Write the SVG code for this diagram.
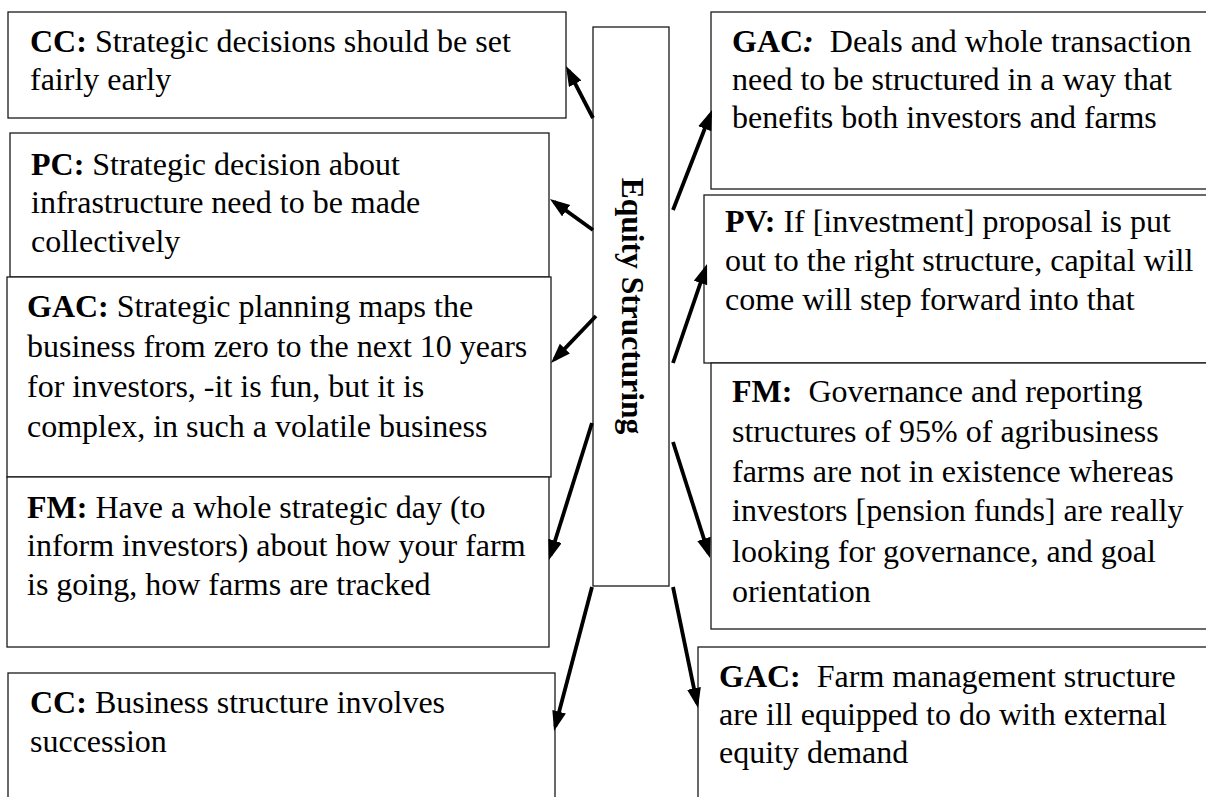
<svg xmlns="http://www.w3.org/2000/svg" width="1206" height="797" viewBox="0 0 1206 797">
  <defs>
    <style>
      .box { fill: #fff; stroke: #1a1a1a; stroke-width: 1.3; }
      .txt { font-family: "Liberation Serif", "Times New Roman", serif; font-size: 32px; fill: #000; }
      .b { font-weight: bold; }
      .title { font-family: "Liberation Serif", "Times New Roman", serif; font-size: 31.5px; font-weight: bold; fill: #000; }
      .arrow { stroke: #000; stroke-width: 3.8; fill: none; marker-end: url(#head); }
    </style>
    <marker id="head" markerUnits="userSpaceOnUse" markerWidth="22" markerHeight="16" refX="15" refY="7" orient="auto">
      <path d="M0,0 L20,7 L0,14 Z" fill="#000"/>
    </marker>
  </defs>

  <rect width="1206" height="797" fill="#fff"/>

  <!-- central theme -->
  <g id="equity-structuring">
    <rect class="box" x="593" y="27" width="76" height="559"/>
    <text class="title" transform="translate(622,306) rotate(90)" text-anchor="middle">Equity Structuring</text>
  </g>

  <!-- left column -->
  <g id="cc-strategic">
    <rect class="box" x="8" y="12" width="558" height="106"/>
    <text class="txt"><tspan x="30" y="52"><tspan class="b">CC:</tspan> Strategic decisions should be set</tspan><tspan x="30" y="90">fairly early</tspan></text>
  </g>

  <g id="pc-infrastructure">
    <rect class="box" x="10" y="133" width="539" height="144"/>
    <text class="txt"><tspan x="31" y="175"><tspan class="b">PC:</tspan> Strategic decision about</tspan><tspan x="31" y="213">infrastructure need to be made</tspan><tspan x="31" y="252">collectively</tspan></text>
  </g>

  <g id="gac-planning">
    <rect class="box" x="7" y="277" width="544" height="200"/>
    <text class="txt"><tspan x="27" y="317"><tspan class="b">GAC:</tspan> Strategic planning maps the</tspan><tspan x="27" y="357">business from zero to the next 10 years</tspan><tspan x="27" y="397">for investors, -it is fun, but it is</tspan><tspan x="27" y="437">complex, in such a volatile business</tspan></text>
  </g>

  <g id="fm-strategic-day">
    <rect class="box" x="7" y="477" width="542" height="170"/>
    <text class="txt"><tspan x="27" y="518"><tspan class="b">FM:</tspan> Have a whole strategic day (to</tspan><tspan x="27" y="556">inform investors) about how your farm</tspan><tspan x="27" y="595">is going, how farms are tracked</tspan></text>
  </g>

  <g id="cc-succession">
    <rect class="box" x="8" y="673" width="547" height="140"/>
    <text class="txt"><tspan x="30" y="713"><tspan class="b">CC:</tspan> Business structure involves</tspan><tspan x="30" y="752">succession</tspan></text>
  </g>

  <!-- right column -->
  <g id="gac-deals">
    <rect class="box" x="711" y="12" width="505" height="177"/>
    <text class="txt" xml:space="preserve"><tspan x="732" y="52"><tspan class="b">GAC</tspan><tspan class="b" font-style="italic">:</tspan>  Deals and whole transaction</tspan><tspan x="732" y="90">need to be structured in a way that</tspan><tspan x="732" y="128">benefits both investors and farms</tspan></text>
  </g>

  <g id="pv-proposal">
    <rect class="box" x="704" y="195" width="512" height="168"/>
    <text class="txt"><tspan x="725" y="232"><tspan class="b">PV:</tspan> If [investment] proposal is put</tspan><tspan x="725" y="271">out to the right structure, capital will</tspan><tspan x="725" y="310">come will step forward into that</tspan></text>
  </g>

  <g id="fm-governance">
    <rect class="box" x="711" y="363" width="505" height="266"/>
    <text class="txt" xml:space="preserve"><tspan x="732" y="402"><tspan class="b">FM:</tspan>  Governance and reporting</tspan><tspan x="732" y="442">structures of 95% of agribusiness</tspan><tspan x="732" y="482">farms are not in existence whereas</tspan><tspan x="732" y="521">investors [pension funds] are really</tspan><tspan x="732" y="562">looking for governance, and goal</tspan><tspan x="732" y="602">orientation</tspan></text>
  </g>

  <g id="gac-management">
    <rect class="box" x="698" y="647" width="518" height="170"/>
    <text class="txt" xml:space="preserve"><tspan x="719" y="687"><tspan class="b">GAC:</tspan>  Farm management structure</tspan><tspan x="719" y="725">are ill equipped to do with external</tspan><tspan x="719" y="763">equity demand</tspan></text>
  </g>

  <!-- connectors -->
  <g id="connectors">
    <line class="arrow" x1="593" y1="118" x2="568.3" y2="70.4"/>
    <line class="arrow" x1="593" y1="230" x2="554" y2="201.9"/>
    <line class="arrow" x1="596" y1="316" x2="554.5" y2="359.4"/>
    <line class="arrow" x1="592" y1="423" x2="550.5" y2="555.2"/>
    <line class="arrow" x1="592" y1="587" x2="555.3" y2="726.2"/>
    <line class="arrow" x1="673" y1="587" x2="697" y2="703.1"/>
    <line class="arrow" x1="673" y1="442" x2="708.5" y2="553.2"/>
    <line class="arrow" x1="673" y1="363" x2="705.4" y2="268.7"/>
    <line class="arrow" x1="673" y1="210" x2="710.2" y2="114.7"/>
  </g>
</svg>
